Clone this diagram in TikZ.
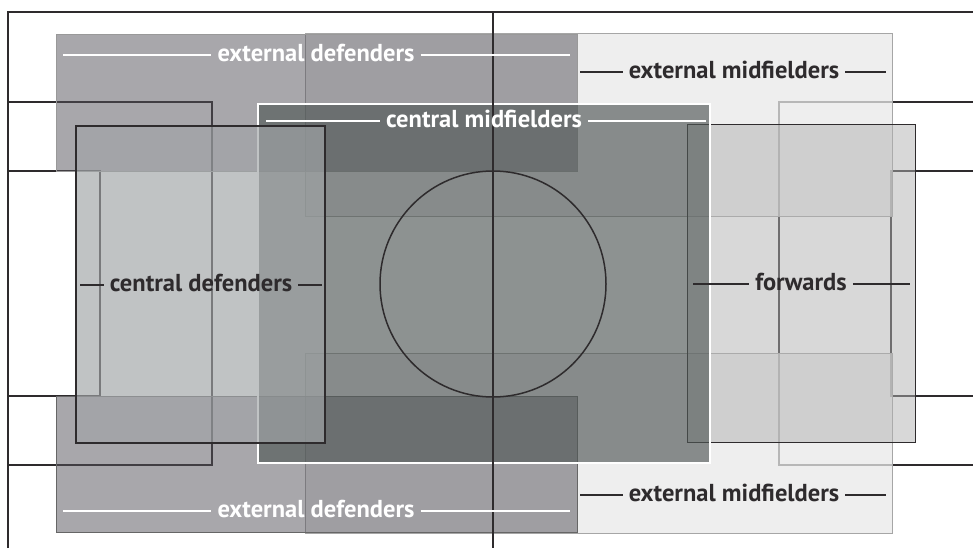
\documentclass[tikz,border=0pt]{standalone}
\usepackage{fontspec}
\setmainfont{PT Sans}
\definecolor{linha}{HTML}{2E2B2D}
\definecolor{defext}{HTML}{54525A}
\definecolor{meioext}{HTML}{E8E8E8}
\definecolor{meiocen}{HTML}{505856}
\definecolor{defcen}{HTML}{A0A4A6}
\definecolor{avanc}{HTML}{B1B1B1}

\begin{document}
\fontsize{24.5}{28}\selectfont\bfseries
\begin{tikzpicture}[x=1pt, y=-1pt,
  campo/.style={line width=1.5pt, draw=linha},
  zona/.style={line width=1pt},
  rotulo/.style={anchor=mid, inner xsep=6pt, inner ysep=0pt},
  traco/.style={line width=1.3pt}]
  \useasboundingbox (0,0) rectangle (973,548);
  % Campo
  \draw[campo] (8,548) -- (8,12) -- (973,12);
  \draw[campo] (8,102) -- (212,102) -- (212,465) -- (8,465);
  \draw[campo] (8,171) -- (100,171) -- (100,396) -- (8,396);
  \draw[campo] (973,102) -- (779,102) -- (779,465) -- (973,465);
  \draw[campo] (973,171) -- (891,171) -- (891,396) -- (973,396);
  % Zonas
  \filldraw[zona, draw=gray!70, fill=meioext, fill opacity=0.74] (305,34) rectangle (892,216);
  \filldraw[zona, draw=gray!70, fill=meioext, fill opacity=0.74] (305,353) rectangle (892,533);
  \filldraw[zona, draw=linha, fill=avanc, fill opacity=0.5] (687,125) rectangle (915,442);
  \filldraw[zona, draw=gray!80, fill=defext, fill opacity=0.51] (56,35) rectangle (577,171);
  \filldraw[zona, draw=gray!80!black, fill=defext, fill opacity=0.51] (56,396) rectangle (577,532);
  \filldraw[zona, line width=1.5pt, draw=white, fill=meiocen, fill opacity=0.65] (258,104) rectangle (710,463);
  % Meio-campo
  \draw[campo] (493,12) -- (493,548);
  \draw[campo] (493,284) circle (113pt);
  \filldraw[zona, line width=1.5pt, draw=linha, fill=defcen, fill opacity=0.66] (76,126) rectangle (325,443);
  % Rotulos
  \foreach \nome/\x/\y/\a/\b/\cor/\texto in {
      defsup/316/55/63/570/white/external defenders,
      definf/316/511/63/570/white/external defenders,
      meiosup/734/72/580/886/linha/external midfielders,
      meioinf/734/495/580/886/linha/external midfielders,
      meiocen/484/121/266/706/white/central midfielders,
      defcen/201/285/80/322/linha/central defenders,
      avanc/801/284/693/910/linha/forwards} {
    \node[rotulo, text=\cor] (\nome) at (\x,\y) {\texto};
    \coordinate (\nome-a) at (\a,\y);
    \coordinate (\nome-b) at (\b,\y);
    \draw[traco, \cor] (\nome-a) -- (\nome.mid west) (\nome.mid east) -- (\nome-b);
  }
\end{tikzpicture}
\end{document}
